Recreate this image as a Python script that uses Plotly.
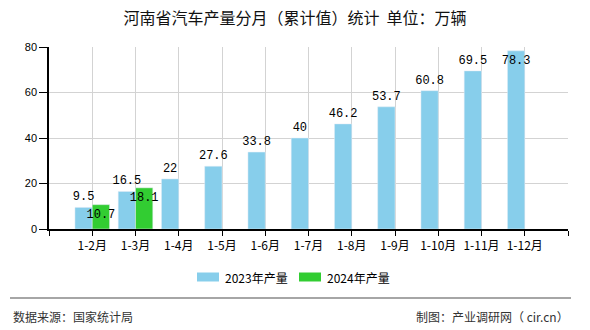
import plotly.graph_objects as go

categories = ["1-2月", "1-3月", "1-4月", "1-5月", "1-6月", "1-7月", "1-8月", "1-9月", "1-10月", "1-11月", "1-12月"]
values_2023 = [9.5, 16.5, 22, 27.6, 33.8, 40, 46.2, 53.7, 60.8, 69.5, 78.3]
values_2024 = [10.7, 18.1]
series_names = ["2023年产量", "2024年产量"]
colors = ["#87CEEB", "#32CD32"]
y_ticks = [0, 20, 40, 60, 80]

title_text = "河南省汽车产量分月（累计值）统计  单位：万辆"
source_text = "数据来源：国家统计局"
maker_text = "制图：产业调研网（ cir.cn）"

x_idx = list(range(len(categories)))
CJK = "Noto Sans CJK SC"
MONO = "Liberation Mono"
Y_MAX = y_ticks[-1]

# labels near the top of the plot area are drawn inside the bar (as in the reference)
pos_2023 = ["inside" if v > Y_MAX - 4 else "outside" for v in values_2023]

fig = go.Figure()
fig.add_trace(go.Bar(
    x=x_idx, y=values_2023, name=series_names[0], marker_color=colors[0],
    text=[f"{v:g}" for v in values_2023], textposition=pos_2023, insidetextanchor="end",
    textangle=0, constraintext="none",
    textfont=dict(family=MONO, size=12, color="#000"), cliponaxis=False,
))
fig.add_trace(go.Bar(
    x=x_idx[:len(values_2024)], y=values_2024, name=series_names[1], marker_color=colors[1],
    text=[f"{v:g}" for v in values_2024], textposition="inside", insidetextanchor="end",
    textangle=0, constraintext="none",
    textfont=dict(family=MONO, size=12, color="#000"), cliponaxis=False,
))

tickvals = list(range(-1, len(categories) + 1))
ticktext = [""] + categories + [""]

fig.update_layout(
    width=590, height=330,
    margin=dict(l=49, r=22, t=47, b=101),
    paper_bgcolor="white", plot_bgcolor="white",
    barmode="group", bargap=0.2, bargroupgap=0,
    showlegend=False,
    uniformtext=dict(mode=False),
    title=dict(text=title_text, x=0.5, xanchor="center", y=1 - 18 / 330, yanchor="middle",
               font=dict(family=CJK, size=16, color="#111")),
    xaxis=dict(range=[-1, len(categories)], tickmode="array", tickvals=tickvals, ticktext=ticktext,
               showgrid=True, gridcolor="#d3d3d3", gridwidth=1,
               showline=True, linecolor="#000", linewidth=1.5,
               ticks="outside", ticklen=5, tickcolor="#000",
               tickfont=dict(family=CJK, size=12, color="#000"), zeroline=False, fixedrange=True),
    yaxis=dict(range=[0, Y_MAX], tickvals=y_ticks, showgrid=True, gridcolor="#d3d3d3", gridwidth=1,
               showline=True, linecolor="#000", linewidth=1.5,
               ticks="outside", ticklen=8, tickcolor="#000",
               tickfont=dict(family="Liberation Sans", size=11, color="#000"), zeroline=False),
)

# custom legend
legend_y = 277
items_x = [197, 299]
for name, col, lx in zip(series_names, colors, items_x):
    fig.add_shape(type="rect", xref="paper", yref="paper",
                  x0=(lx - 49) / 519, x1=(lx + 22 - 49) / 519,
                  y0=(229 - (legend_y + 4.5)) / 182, y1=(229 - (legend_y - 4.5)) / 182,
                  fillcolor=col, line_width=0)
    fig.add_annotation(text=name, xref="paper", yref="paper",
                       x=(lx + 26 - 49) / 519, y=(229 - legend_y) / 182,
                       xanchor="left", yanchor="middle", showarrow=False,
                       font=dict(family=CJK, size=12, color="#000"))

# footer
fig.add_shape(type="line", xref="paper", yref="paper",
              x0=(10 - 49) / 519, x1=(571 - 49) / 519,
              y0=(229 - 298) / 182, y1=(229 - 298) / 182,
              line=dict(color="#888", width=1.5))
fig.add_annotation(text=source_text, xref="paper", yref="paper",
                   x=(11 - 49) / 519, y=(229 - 316) / 182, xanchor="left", yanchor="middle",
                   showarrow=False, font=dict(family=CJK, size=12, color="#333"))
fig.add_annotation(text=maker_text, xref="paper", yref="paper",
                   x=(571 - 49) / 519, y=(229 - 316) / 182, xanchor="right", yanchor="middle",
                   showarrow=False, font=dict(family=CJK, size=12, color="#333"))

fig.write_html("out.html")
